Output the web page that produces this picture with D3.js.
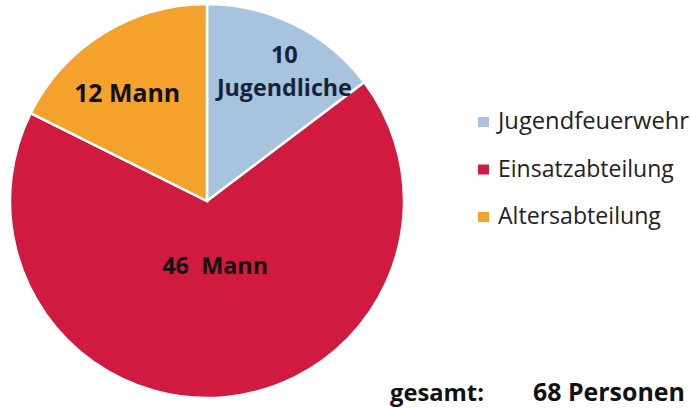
<!DOCTYPE html>
<html><head><meta charset="utf-8">
<script src="https://cdn.jsdelivr.net/npm/d3@7"></script>
<style>body{margin:0;background:#fff}svg{display:block}text{white-space:pre}</style>
</head><body>
<script>
const categories = ["Jugendfeuerwehr", "Einsatzabteilung", "Altersabteilung"];
const values = [10, 46, 12];
const sliceLabels = [["10", "Jugendliche"], ["46  Mann"], ["12 Mann"]];
const colors = ["#a8c3de", "#d01a40", "#f4a22c"];
const totalLabel = ["gesamt:", "68 Personen"];

const W = 690, H = 410;
const svg = d3.select("body").append("svg").attr("width", W).attr("height", H);
const cx = 207, cy = 201, r = 197;
const font = "'Open Sans', sans-serif";

function fit(sel, width) {
  sel.each(function() {
    const len = this.getComputedTextLength();
    const fs = parseFloat(this.getAttribute("font-size"));
    this.setAttribute("font-size", fs * width / len);
  });
}

const pie = d3.pie().sort(null).value(d => d)(values);
const arc = d3.arc().innerRadius(0).outerRadius(r);
const g = svg.append("g").attr("transform", `translate(${cx},${cy})`);
g.selectAll("path").data(pie).join("path")
  .attr("d", arc).attr("fill", (d, i) => colors[i])
  .attr("stroke", "#fff").attr("stroke-width", 2.5);

// label placement: radius and angle nudge (radians) per slice
const labelPos = [{rad: 150, da: 0.08}, {rad: 67, da: -0.03}, {rad: 133, da: -0.09}];
const labelWidths = [[27, 135], [106], [106]];
const labelColors = ["#16243a", "#111", "#111"];
pie.forEach((p, i) => {
  const mid = (p.startAngle + p.endAngle) / 2 + labelPos[i].da;
  const [x, y] = d3.pointRadial(mid, labelPos[i].rad);
  const lines = sliceLabels[i];
  const lh = 33;
  lines.forEach((t, j) => {
    const yy = y + (j - (lines.length - 1) / 2) * lh + 7;
    svg.append("text").attr("x", cx + x).attr("y", cy + yy)
      .attr("text-anchor", "middle").attr("font-family", font).attr("font-weight", "bold")
      .attr("font-size", 20).attr("fill", labelColors[i]).text(t)
      .call(fit, labelWidths[i][j]);
  });
});

// legend
const legW = [191, 176, 163];
const legY = d3.scalePoint().domain(categories).range([122, 217]);
const leg = svg.append("g");
categories.forEach((c, i) => {
  leg.append("rect").attr("x", 478).attr("y", legY(c) - 5).attr("width", 11).attr("height", 10).attr("fill", colors[i]);
  leg.append("text").attr("x", 498).attr("y", legY(c) + 7)
    .attr("font-family", font).attr("font-size", 20).attr("fill", "#222").text(c)
    .call(fit, legW[i]);
});

// total
svg.append("text").attr("x", 390).attr("y", 401).attr("font-family", font).attr("font-weight", "bold")
  .attr("font-size", 20).attr("fill", "#111").text(totalLabel[0]).call(fit, 94);
svg.append("text").attr("x", 533).attr("y", 401).attr("font-family", font).attr("font-weight", "bold")
  .attr("font-size", 20).attr("fill", "#111").text(totalLabel[1]).call(fit, 152);
</script>
</body></html>
